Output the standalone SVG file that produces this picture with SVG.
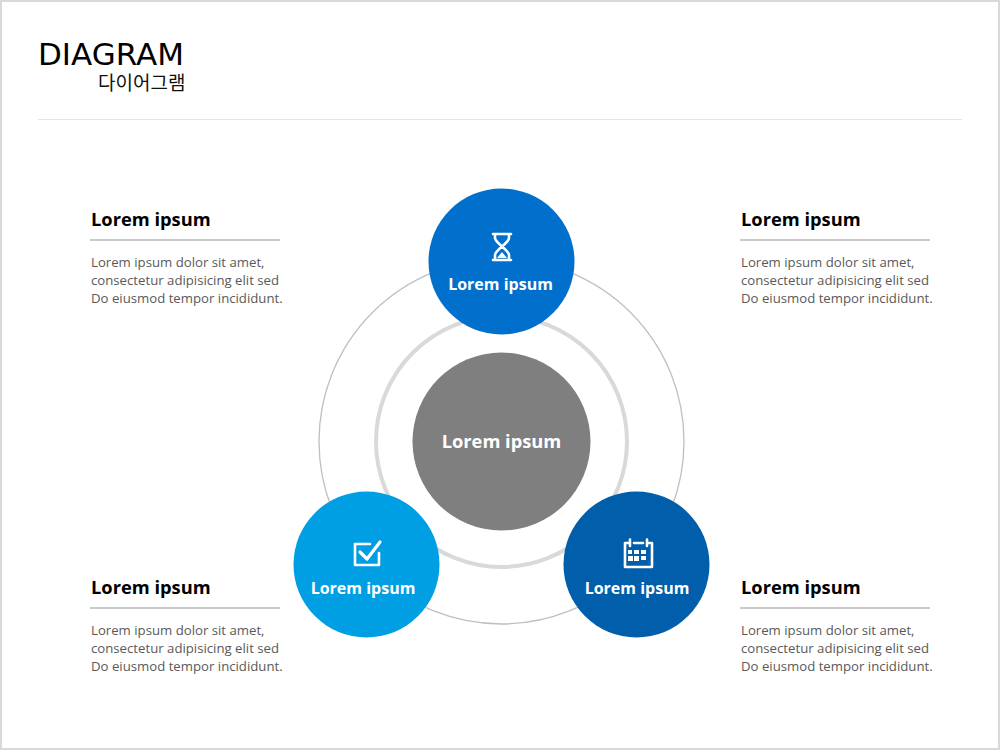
<svg xmlns="http://www.w3.org/2000/svg" width="1000" height="750" viewBox="0 0 1000 750">
<style>
.h{font:700 18.3px "Open Sans","Noto Sans",sans-serif;fill:#000}
.b{font:400 13.2px "Open Sans","Noto Sans",sans-serif;fill:#595959}
.l{font:700 16px "Open Sans","Noto Sans",sans-serif;fill:#fff;text-anchor:middle}
.r{stroke:#b8b8b8;stroke-width:1.300}
.i{fill:none;stroke:#fff;stroke-width:2.600;stroke-linejoin:round;stroke-linecap:round}
</style>
<rect x="1" y="1" width="998" height="748" fill="#fff" stroke="#d9d9d9" stroke-width="2"/>
<g id="title">
<text x="38" y="65" font-family="'DejaVu Sans',sans-serif" font-size="31" fill="#000">DIAGRAM</text>
<text x="185.500" y="90" text-anchor="end" font-family="'Noto Sans CJK KR',sans-serif" font-size="19" fill="#111">다이어그램</text>
<line x1="38" y1="119.500" x2="962" y2="119.500" stroke="#e4e4e4" stroke-width="1"/>
</g>
<g id="connectors" fill="none">
<circle cx="501.500" cy="441.500" r="182.500" stroke="#bfbfbf" stroke-width="1.300"/>
<circle cx="501.500" cy="441.500" r="125.500" stroke="#d9d9d9" stroke-width="4"/>
</g>
<g id="center"><circle cx="501.500" cy="441.500" r="89" fill="#7f7f7f"/><text class="l" x="501.500" y="447.500" style="font-size:18.300px">Lorem ipsum</text></g>
<g id="node-top"><circle cx="501.500" cy="261.500" r="73" fill="#0070cc"/>
<path class="i" d="M493 234H511M493 260H511M495 234V238C495 243 509 250 509 255V260M509 234V238C509 243 495 250 495 255V260"/>
<path d="M497 258L502 252L507 258Z" fill="#fff"/>
<text class="l" x="500.500" y="290">Lorem ipsum</text></g>
<g id="node-left"><circle cx="366.500" cy="564.500" r="73" fill="#009fe3"/>
<path class="i" d="M370 544H355V565H379V553"/>
<path class="i" d="M360 552L367 559L380 542" style="stroke-width:3.200"/>
<text class="l" x="363" y="593.500">Lorem ipsum</text></g>
<g id="node-right"><circle cx="636.500" cy="564.500" r="73" fill="#005eaa"/>
<path class="i" d="M630 543H625V567H652V543H647M634 543H643M630 539.500V546M647 539.500V546"/>
<path fill="#fff" d="M634 550h5v4h-5zM641 550h5v4h-5zM628 550h4v4h-4zM628 556h5v5h-5zM634 556h5v5h-5zM641 556h5v4h-5z"/>
<text class="l" x="637" y="593.500">Lorem ipsum</text></g>
<g id="note-tl"><text class="h" x="91" y="225.500">Lorem ipsum</text><line class="r" x1="90" y1="240" x2="280" y2="240"/>
<text class="b" x="91" y="267">Lorem ipsum dolor sit amet,</text><text class="b" x="91" y="285">consectetur adipisicing elit sed</text><text class="b" x="91" y="303">Do eiusmod tempor incididunt.</text></g>
<g id="note-tr"><text class="h" x="741" y="225.500">Lorem ipsum</text><line class="r" x1="740" y1="240" x2="930" y2="240"/>
<text class="b" x="741" y="267">Lorem ipsum dolor sit amet,</text><text class="b" x="741" y="285">consectetur adipisicing elit sed</text><text class="b" x="741" y="303">Do eiusmod tempor incididunt.</text></g>
<g id="note-bl"><text class="h" x="91" y="593.500">Lorem ipsum</text><line class="r" x1="90" y1="608" x2="280" y2="608"/>
<text class="b" x="91" y="635">Lorem ipsum dolor sit amet,</text><text class="b" x="91" y="653">consectetur adipisicing elit sed</text><text class="b" x="91" y="671">Do eiusmod tempor incididunt.</text></g>
<g id="note-br"><text class="h" x="741" y="593.500">Lorem ipsum</text><line class="r" x1="740" y1="608" x2="930" y2="608"/>
<text class="b" x="741" y="635">Lorem ipsum dolor sit amet,</text><text class="b" x="741" y="653">consectetur adipisicing elit sed</text><text class="b" x="741" y="671">Do eiusmod tempor incididunt.</text></g>
</svg>
